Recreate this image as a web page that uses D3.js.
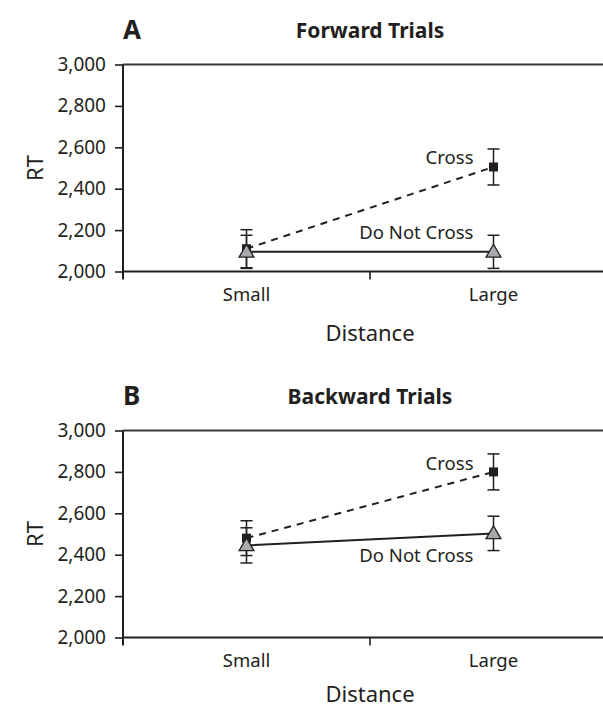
<!DOCTYPE html>
<html><head><meta charset="utf-8">
<script src="https://cdn.jsdelivr.net/npm/d3@7"></script>
<style>body{margin:0;background:#fff}svg{display:block}text{font-family:"Noto Sans",sans-serif;fill:#231f20}</style>
</head><body><svg id="c" width="603" height="706"></svg>
<script>
const categories = ["Small", "Large"];
const yTicks = [2000, 2200, 2400, 2600, 2800, 3000];
const seriesNames = ["Cross", "Do Not Cross"];
const panelLetters = ["A", "B"];
const panelTitles = ["Forward Trials", "Backward Trials"];
const forwardCross = [2110, 2505];
const forwardCrossErr = [92, 87];
const forwardNoCross = [2095, 2095];
const forwardNoCrossErr = [80, 80];
const backwardCross = [2480, 2800];
const backwardCrossErr = [84, 87];
const backwardNoCross = [2445, 2503];
const backwardNoCrossErr = [85, 83];

const panels = [
  {letter: panelLetters[0], title: panelTitles[0], top: 64.5, bottom: 271.5,
   cross: forwardCross, crossErr: forwardCrossErr, no: forwardNoCross, noErr: forwardNoCrossErr,
   crossLabelDy: -3, noLabelDy: -13, titleDy: -27, distDy: 69},
  {letter: panelLetters[1], title: panelTitles[1], top: 430.5, bottom: 637.5,
   cross: backwardCross, crossErr: backwardCrossErr, no: backwardNoCross, noErr: backwardNoCrossErr,
   crossLabelDy: -2, noLabelDy: 29, titleDy: -27, distDy: 64}
];

const svg = d3.select("#c");
const left = 123, right = 617;
const fmt = d3.format(",");
const ink = "#231f20";

panels.forEach(p => {
  const g = svg.append("g");
  const x = d3.scaleBand().domain(categories).range([left, right]);
  const y = d3.scaleLinear().domain([2000, 3000]).range([p.bottom, p.top]);
  const cx = c => x(c) + x.bandwidth() / 2;

  // top frame line
  g.append("line").attr("x1", left).attr("x2", 603).attr("y1", y(3000)).attr("y2", y(3000))
    .attr("stroke", "#3a3a3a").attr("stroke-width", 2);

  // y axis
  const ya = g.append("g").attr("transform", `translate(${left},0)`)
    .call(d3.axisLeft(y).tickValues(yTicks).tickFormat(fmt).tickSize(8).tickPadding(9));
  ya.select(".domain").remove();
  ya.selectAll(".tick line").attr("stroke", ink).attr("stroke-width", 1.6);
  ya.selectAll(".tick text").attr("font-size", 19).style("font-family", '"Noto Sans",sans-serif').attr("fill", ink);
  g.append("line").attr("x1", left).attr("x2", left).attr("y1", p.top).attr("y2", p.bottom + 8)
    .attr("stroke", ink).attr("stroke-width", 2);

  // x axis
  g.append("line").attr("x1", left).attr("x2", 603).attr("y1", p.bottom).attr("y2", p.bottom)
    .attr("stroke", ink).attr("stroke-width", 2);
  g.append("line").attr("x1", left + x.bandwidth()).attr("x2", left + x.bandwidth())
    .attr("y1", p.bottom).attr("y2", p.bottom + 8).attr("stroke", ink).attr("stroke-width", 1.6);
  g.selectAll(".xl").data(categories).enter().append("text")
    .attr("x", cx).attr("y", p.bottom + 29).attr("text-anchor", "middle").attr("font-size", 18.5).text(d => d);
  g.append("text").attr("x", left + x.bandwidth()).attr("y", p.bottom + p.distDy).attr("text-anchor", "middle")
    .attr("font-size", 22).text("Distance");
  g.append("text").attr("transform", `translate(43,${(p.top + p.bottom) / 2}) rotate(-90)`)
    .attr("text-anchor", "middle").attr("font-size", 22).text("RT");

  // titles
  g.append("text").attr("x", left).attr("y", p.top + p.titleDy + 1).attr("font-size", 26).attr("font-weight", "bold").text(p.letter);
  g.append("text").attr("x", left + x.bandwidth()).attr("y", p.top + p.titleDy).attr("text-anchor", "middle")
    .attr("font-size", 21).attr("font-weight", "bold").text(p.title);

  const line = d3.line().x((d, i) => cx(categories[i])).y(d => y(d));
  // error bars
  const err = (vals, errs) => {
    categories.forEach((c, i) => {
      const xx = cx(c), lo = y(vals[i] - errs[i]), hi = y(vals[i] + errs[i]);
      g.append("line").attr("x1", xx).attr("x2", xx).attr("y1", lo).attr("y2", hi).attr("stroke", ink).attr("stroke-width", 1.5);
      [lo, hi].forEach(v => g.append("line").attr("x1", xx - 6).attr("x2", xx + 6).attr("y1", v).attr("y2", v)
        .attr("stroke", ink).attr("stroke-width", 1.5));
    });
  };
  err(p.cross, p.crossErr);
  err(p.no, p.noErr);

  g.append("path").datum(p.cross).attr("d", line).attr("fill", "none").attr("stroke", ink)
    .attr("stroke-width", 2).attr("stroke-dasharray", "7,6");
  g.append("path").datum(p.no).attr("d", line).attr("fill", "none").attr("stroke", ink).attr("stroke-width", 2);

  // markers
  g.selectAll(".sq").data(p.cross).enter().append("rect")
    .attr("x", (d, i) => cx(categories[i]) - 4.5).attr("y", d => y(d) - 4.5)
    .attr("width", 9).attr("height", 9).attr("fill", ink);
  const tri = d3.symbol().type(d3.symbolTriangle).size(95);
  g.selectAll(".tr").data(p.no).enter().append("path")
    .attr("d", tri).attr("transform", (d, i) => `translate(${cx(categories[i])},${y(d) + 1})`)
    .attr("fill", "#a7a9ac").attr("stroke", ink).attr("stroke-width", 1.3);

  // series labels
  const lx = cx(categories[1]) - 20;
  g.append("text").attr("x", lx).attr("y", y(p.cross[1]) + p.crossLabelDy).attr("text-anchor", "end")
    .attr("font-size", 18.5).text(seriesNames[0]);
  g.append("text").attr("x", lx).attr("y", y(p.no[1]) + p.noLabelDy).attr("text-anchor", "end")
    .attr("font-size", 18.5).text(seriesNames[1]);
});
</script></body></html>
